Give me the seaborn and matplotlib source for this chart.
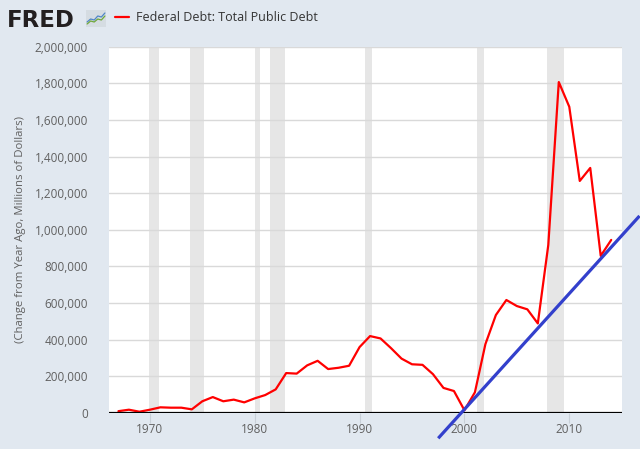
import matplotlib.pyplot as plt
import pandas as pd
import seaborn as sns

years = list(range(1967, 2015))
debt_change = [
    10000, 18000, 7000, 18000, 31000, 29000, 29000, 20000, 64000, 87000,
    64000, 73000, 58000, 80000, 98000, 129000, 218000, 215000, 260000, 285000,
    240000, 247000, 258000, 360000, 420000, 407000, 354000, 297000, 266000, 263000,
    212000, 137000, 120000, 15000, 113000, 376000, 535000, 617000, 584000, 566000,
    489000, 918000, 1807000, 1672000, 1267000, 1338000, 858000, 945000,
]
recession_start = [1969.9, 1973.85, 1980.0, 1981.5, 1990.5, 2001.2, 2007.9]
recession_end = [1970.85, 1975.2, 1980.5, 1982.85, 1991.2, 2001.85, 2009.45]
trend_x = [1997.5, 2016.7]
trend_y = [-138000, 1076000]
ytick_values = list(range(0, 2000001, 200000))
xtick_values = [1970, 1980, 1990, 2000, 2010]

df = pd.DataFrame({"year": years, "change": debt_change})

sns.set_style("white")
plt.rcParams["font.family"] = ["Open Sans", "DejaVu Sans"]

bg = "#E1E8F0"
fig = plt.figure(figsize=(6.4, 4.49), dpi=100, facecolor=bg)
ax = fig.add_axes([109 / 640, 1 - 413 / 449, 512.7 / 640, 366.3 / 449])
ax.set_facecolor("white")

for s, e in zip(recession_start, recession_end):
    ax.axvspan(s, e, color="#E6E6E6", lw=0, zorder=0)

sns.lineplot(df, x="year", y="change", ax=ax, color="#FF0000", lw=1.6, zorder=3)
ax.axhline(0, color="black", lw=1.6, zorder=4)
ax.plot(trend_x, trend_y, color="#3340CC", lw=2.3, clip_on=False, zorder=5,
        solid_capstyle="butt")

ax.set_xlim(1966.1, 2015.0)
ax.set_ylim(0, 2000000)
ax.set_yticks(ytick_values)
ax.set_yticklabels([f"{v:,}" for v in ytick_values])
ax.set_xticks(xtick_values)
ax.grid(axis="y", color="#D9D9D9", lw=1)
ax.grid(axis="x", visible=False)
for spine in ax.spines.values():
    spine.set_visible(False)
ax.tick_params(axis="y", length=0, pad=15, labelsize=8.5, labelcolor="#606060")
ax.tick_params(axis="x", length=7, width=0.8, color="#C8D0D8", pad=0,
               labelsize=8.5, labelcolor="#606060", bottom=True)
ax.set_xlabel("")
ax.set_ylabel("(Change from Year Ago, Millions of Dollars)", fontsize=8.2,
              color="#606060")
ax.yaxis.set_label_coords(-83 / 512.7, 0.5)

# header
fig.text(7 / 640, 1 - 27 / 449, "FRED", fontsize=16.5, fontweight="bold",
         color="#231F20", family="DejaVu Sans", va="baseline")
icon = fig.add_axes([86 / 640, 1 - 27 / 449, 20 / 640, 17 / 449])
icon.set_facecolor("#D5DCE2")
icon.plot([0, 1, 2, 3, 4, 5], [0.3, 0.6, 0.5, 0.9, 0.8, 1.2], color="#4F86C6", lw=0.9)
icon.plot([0, 1, 2, 3, 4, 5], [0.1, 0.4, 0.3, 0.6, 0.5, 0.9], color="#6FA83A", lw=0.9)
icon.set_xlim(-0.3, 5.3)
icon.set_ylim(-0.2, 1.5)
icon.set_xticks([])
icon.set_yticks([])
for spine in icon.spines.values():
    spine.set_visible(False)
fig.add_artist(plt.Line2D([115 / 640, 129 / 640], [1 - 17 / 449, 1 - 17 / 449],
                          color="#FF0000", lw=1.6))
fig.text(136 / 640, 1 - 17.5 / 449, "Federal Debt: Total Public Debt",
         fontsize=9, color="#333333", va="center")

fig.savefig("out.png", dpi=100, facecolor=bg)
